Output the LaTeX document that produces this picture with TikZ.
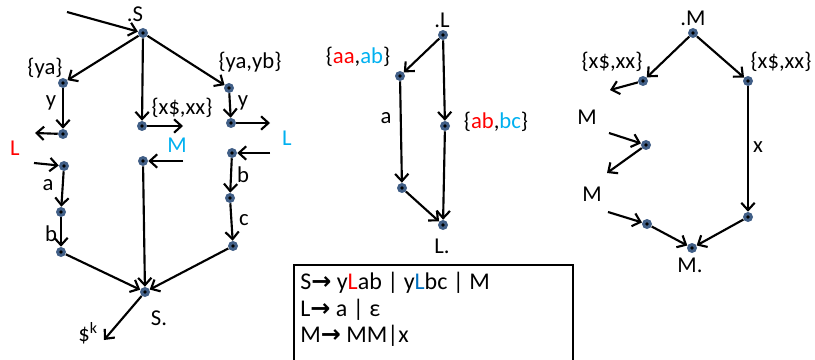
\documentclass[tikz,border=0pt]{standalone}
\usepackage{fontspec}
\setmainfont{Carlito}
\newfontfamily\symfont{DejaVu Sans}
\usepackage{tikz}
\usetikzlibrary{arrows.meta,positioning}
\usepackage{xcolor}
\definecolor{dotblue}{RGB}{65,95,135}
\definecolor{lblred}{RGB}{255,0,0}
\definecolor{lblblue}{RGB}{0,176,240}
\definecolor{gramblue}{RGB}{0,112,192}
\tikzset{
    vtx/.style={circle, fill=dotblue, inner sep=0pt, minimum size=7.5pt,
        path picture={\fill[black] (path picture bounding box.center) circle (1.4pt);}},
    edge/.style={line width=1.6pt, black, -{Straight Barb[length=5.5pt,width=10pt]}},
    lbl/.style={font=\fontsize{17}{20}\selectfont, inner sep=0pt},
    gram/.style={font=\fontsize{18}{20}\selectfont, inner sep=0pt, align=left},
}
\newcommand{\prodarrow}{{\symfont\bfseries →}}

\begin{document}
\begin{tikzpicture}[x=0.75pt, y=-0.75pt]
    \useasboundingbox (0,0) rectangle (815,360);

    % S graph
    \node[vtx] (s0) at (143,33) {};
    \node[vtx] (a1) at (63,83) {};
    \node[vtx] (a2) at (63,134) {};
    \node[vtx] (a3) at (64,166) {};
    \node[vtx] (a4) at (61,212) {};
    \node[vtx] (a5) at (61,252) {};
    \node[vtx] (b1) at (142,126) {};
    \node[vtx] (b2) at (143,161) {};
    \node[vtx] (c1) at (229,88) {};
    \node[vtx] (c2) at (231,123) {};
    \node[vtx] (c3) at (232,153) {};
    \node[vtx] (c4) at (230,198) {};
    \node[vtx] (c5) at (233,246) {};
    \node[vtx] (s1) at (145,292) {};

    \coordinate (sIn) at (67,12);
    \coordinate (a2out) at (35,133);
    \coordinate (a3in) at (34,163);
    \coordinate (b1out) at (183,126);
    \coordinate (b2in) at (183,161);
    \coordinate (c2out) at (270,123);
    \coordinate (c3in) at (270,153);
    \coordinate (s1out) at (104,340);

    \draw[edge] (sIn) -- (s0);
    \draw[edge] (s0) -- (a1);
    \draw[edge] (s0) -- (b1);
    \draw[edge] (s0) -- (c1);
    \draw[edge] (a1) -- (a2);
    \draw[edge] (a2) -- (a2out);
    \draw[edge] (a3in) -- (a3);
    \draw[edge] (a3) -- (a4);
    \draw[edge] (a4) -- (a5);
    \draw[edge] (b1) -- (b1out);
    \draw[edge] (b2in) -- (b2);
    \draw[edge] (b2) -- (s1);
    \draw[edge] (c1) -- (c2);
    \draw[edge] (c2) -- (c2out);
    \draw[edge] (c3in) -- (c3);
    \draw[edge] (c3) -- (c4);
    \draw[edge] (c4) -- (c5);
    \draw[edge] (a5) -- (s1);
    \draw[edge] (c5) -- (s1);
    \draw[edge] (s1) -- (s1out);

    % Labels
    \node[lbl] (sTop) at (135,14) {.S};
    \node[lbl] (la1) at (45,68) {\{ya\}};
    \node[lbl] (lb1) at (182,108) {\{x\$,xx\}};
    \node[lbl] (lc1) at (250,62) {\{ya,yb\}};
    \node[lbl] (ya) at (51,103) {y};
    \node[lbl] (yc) at (243,103) {y};
    \node[lbl, text=lblred] (retL) at (15,148) {L};
    \node[lbl, text=lblblue] (retM) at (177,145) {M};
    \node[lbl, text=lblblue] (retL2) at (287,138) {L};
    \node[lbl] (ea) at (48,185) {a};
    \node[lbl] (eb) at (51,234) {b};
    \node[lbl] (eb2) at (243,175) {b};
    \node[lbl] (ec) at (244,220) {c};
    \node[lbl] (sEnd) at (159,318) {S.};
    \node[lbl] (dollar) at (88,333) {\$\textsuperscript{k}};

    % L graph
    \node[vtx] (l0) at (443,35) {};
    \node[vtx] (l1) at (400,76) {};
    \node[vtx] (l2) at (445,126) {};
    \node[vtx] (l3) at (402,188) {};
    \node[vtx] (l4) at (443,225) {};

    \draw[edge] (l0) -- (l1);
    \draw[edge] (l0) -- (l2);
    \draw[edge] (l1) -- (l3);
    \draw[edge] (l3) -- (l4);
    \draw[edge] (l2) -- (l4);

    \node[lbl] (lTop) at (442,20) {.L};
    \node[lbl] (ll1) at (358,57) {\{{\color{lblred}aa},{\color{lblblue}ab}\}};
    \node[lbl] (ll2) at (496,122) {\{{\color{lblred}ab},{\color{lblblue}bc}\}};
    \node[lbl] (la) at (386,118) {a};
    \node[lbl] (lEnd) at (442,246) {L.};

    % M graph
    \node[vtx] (m0) at (693,33) {};
    \node[vtx] (m1) at (643,81) {};
    \node[vtx] (m2) at (748,81) {};
    \node[vtx] (m3) at (646,145) {};
    \node[vtx] (m4) at (647,224) {};
    \node[vtx] (m5) at (692,248) {};
    \node[vtx] (m6) at (748,217) {};

    \coordinate (m1out) at (610,90);
    \coordinate (m3in) at (609,133);
    \coordinate (m3out) at (607,173);
    \coordinate (m4in) at (608,212);

    \draw[edge] (m0) -- (m1);
    \draw[edge] (m0) -- (m2);
    \draw[edge] (m1) -- (m1out);
    \draw[edge] (m3in) -- (m3);
    \draw[edge] (m3) -- (m3out);
    \draw[edge] (m4in) -- (m4);
    \draw[edge] (m4) -- (m5);
    \draw[edge] (m2) -- (m6);
    \draw[edge] (m6) -- (m5);

    \node[lbl] (mTop) at (693,18) {.M};
    \node[lbl] (lm1) at (612,62) {\{x\$,xx\}};
    \node[lbl] (lm2) at (781,62) {\{x\$,xx\}};
    \node[lbl] (mA) at (587,117) {M};
    \node[lbl] (mB) at (592,194) {M};
    \node[lbl] (mx) at (758,147) {x};
    \node[lbl] (mEnd) at (690,265) {M.};

    % Grammar
    \draw[line width=0.8pt] (294,265) rectangle (573,366);
    \node[gram, anchor=north west] (rules) at (300,272)
        {S\prodarrow{} y{\color{lblred}L}ab | y{\color{gramblue}L}bc | M\\
         L\prodarrow{} a | ε\\
         M\prodarrow{} MM|x};
\end{tikzpicture}
\end{document}
